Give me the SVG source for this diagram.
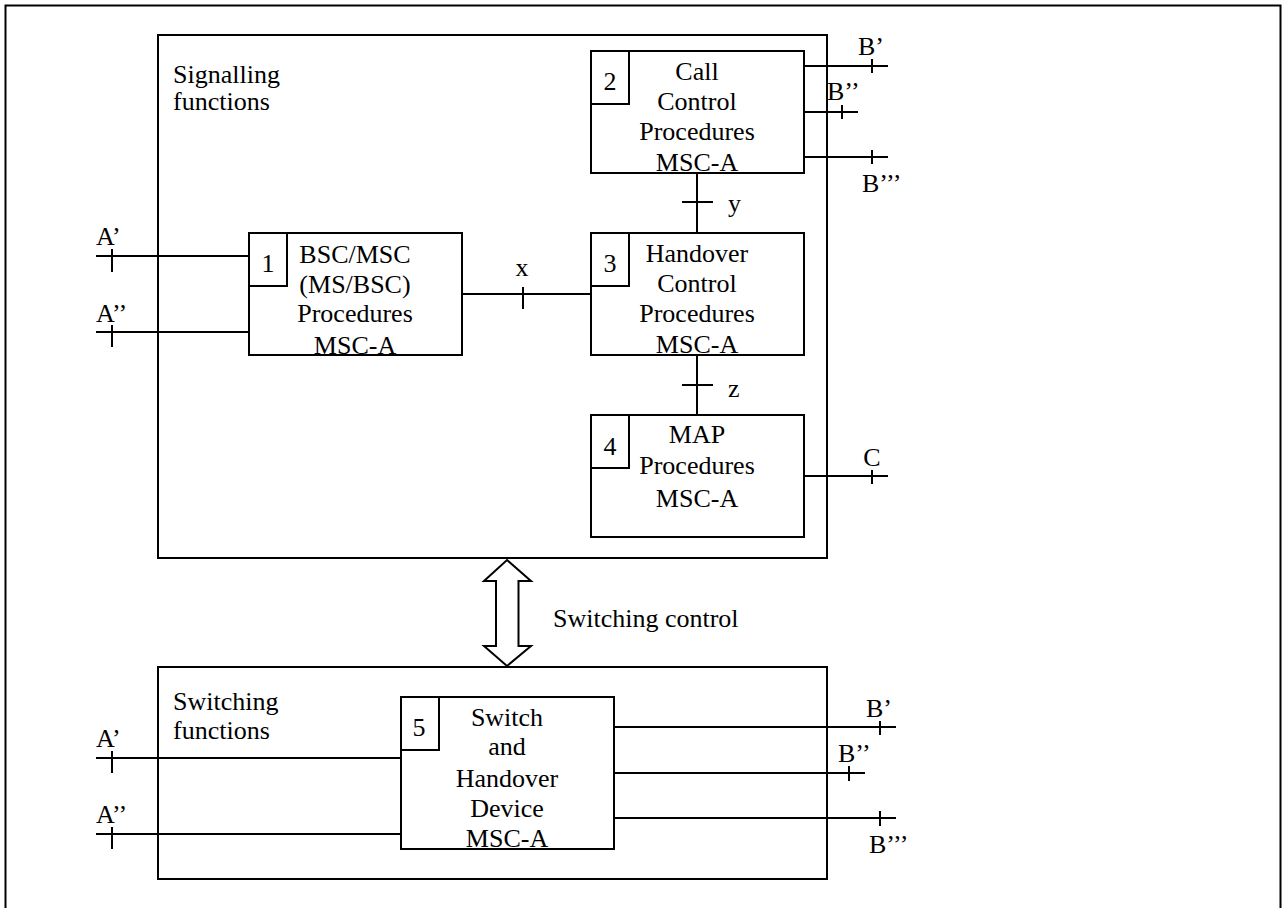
<svg xmlns="http://www.w3.org/2000/svg" width="1282" height="908" viewBox="0 0 1282 908">
<style>
.b{fill:none;stroke:#000;stroke-width:2}
.l{stroke:#000;stroke-width:2;fill:none}
.t{font-family:"Liberation Serif","Times New Roman",serif;font-size:26px;fill:#000}
.c{text-anchor:middle}
</style>
<rect x="5.5" y="5.5" width="1275" height="910" fill="#fff" stroke="#000" stroke-width="2"/>
<g id="signalling">
<rect class="b" x="158" y="35" width="669" height="523"/>
<text class="t" x="173" y="83">Signalling</text>
<text class="t" x="173" y="110">functions</text>
</g>
<g id="switching">
<rect class="b" x="158" y="667" width="669" height="212"/>
<text class="t" x="173" y="710">Switching</text>
<text class="t" x="173" y="739">functions</text>
</g>
<g id="node1">
<rect class="b" x="249" y="233" width="213" height="122"/>
<rect class="b" x="249" y="233" width="38" height="53"/>
<text class="t c" x="268" y="272">1</text>
<text class="t c" x="355" y="263">BSC/MSC</text>
<text class="t c" x="355" y="293">(MS/BSC)</text>
<text class="t c" x="355" y="322">Procedures</text>
<text class="t c" x="355" y="354">MSC-A</text>
</g>
<g id="node2">
<rect class="b" x="591" y="51" width="213" height="122"/>
<rect class="b" x="591" y="51" width="38" height="53"/>
<text class="t c" x="610" y="90">2</text>
<text class="t c" x="697" y="80">Call</text>
<text class="t c" x="697" y="110">Control</text>
<text class="t c" x="697" y="140">Procedures</text>
<text class="t c" x="697" y="171">MSC-A</text>
</g>
<g id="node3">
<rect class="b" x="591" y="233" width="213" height="122"/>
<rect class="b" x="591" y="233" width="38" height="53"/>
<text class="t c" x="610" y="272">3</text>
<text class="t c" x="697" y="262">Handover</text>
<text class="t c" x="697" y="292">Control</text>
<text class="t c" x="697" y="322">Procedures</text>
<text class="t c" x="697" y="353">MSC-A</text>
</g>
<g id="node4">
<rect class="b" x="591" y="415" width="213" height="122"/>
<rect class="b" x="591" y="415" width="38" height="53"/>
<text class="t c" x="610" y="455">4</text>
<text class="t c" x="697" y="443">MAP</text>
<text class="t c" x="697" y="474">Procedures</text>
<text class="t c" x="697" y="507">MSC-A</text>
</g>
<g id="node5">
<rect class="b" x="401" y="697" width="213" height="152"/>
<rect class="b" x="401" y="697" width="38" height="53"/>
<text class="t c" x="419" y="736">5</text>
<text class="t c" x="507" y="726">Switch</text>
<text class="t c" x="507" y="755">and</text>
<text class="t c" x="507" y="787">Handover</text>
<text class="t c" x="507" y="817">Device</text>
<text class="t c" x="507" y="847">MSC-A</text>
</g>
<g id="connectors">
<path class="l" d="M96 256H249M112 249V272"/>
<text class="t" x="96" y="245">A’</text>
<path class="l" d="M96 332H249M112 325V347"/>
<text class="t" x="96" y="322">A’’</text>
<path class="l" d="M462 294H591M523 287V309"/>
<text class="t c" x="522" y="276">x</text>
<path class="l" d="M697 173V233M682 202H713"/>
<text class="t" x="728" y="212">y</text>
<path class="l" d="M697 355V415M682 385H713"/>
<text class="t" x="728" y="397">z</text>
<path class="l" d="M804 66H888M872 59V73"/>
<text class="t" x="858" y="55">B’</text>
<path class="l" d="M804 112H858M842 105V119"/>
<text class="t" x="827" y="100">B’’</text>
<path class="l" d="M804 157H888M872 150V164"/>
<text class="t" x="862" y="192">B’’’</text>
<path class="l" d="M804 476H888M872 470V484"/>
<text class="t c" x="872" y="466">C</text>
<path class="l" d="M507 560L531 581H518.5V646H531L507 666L484 646H496V581H484Z" fill="#fff"/>
<text class="t" x="553" y="627">Switching control</text>
<path class="l" d="M96 758H401M112 751V773"/>
<text class="t" x="96" y="747">A’</text>
<path class="l" d="M96 834H401M112 827V849"/>
<text class="t" x="96" y="823">A’’</text>
<path class="l" d="M614 727H896M880 721V735"/>
<text class="t" x="866" y="717">B’</text>
<path class="l" d="M614 773H865M849 766V781"/>
<text class="t" x="838" y="762">B’’</text>
<path class="l" d="M614 818H896M880 811V826"/>
<text class="t" x="869" y="853">B’’’</text>
</g>
</svg>
